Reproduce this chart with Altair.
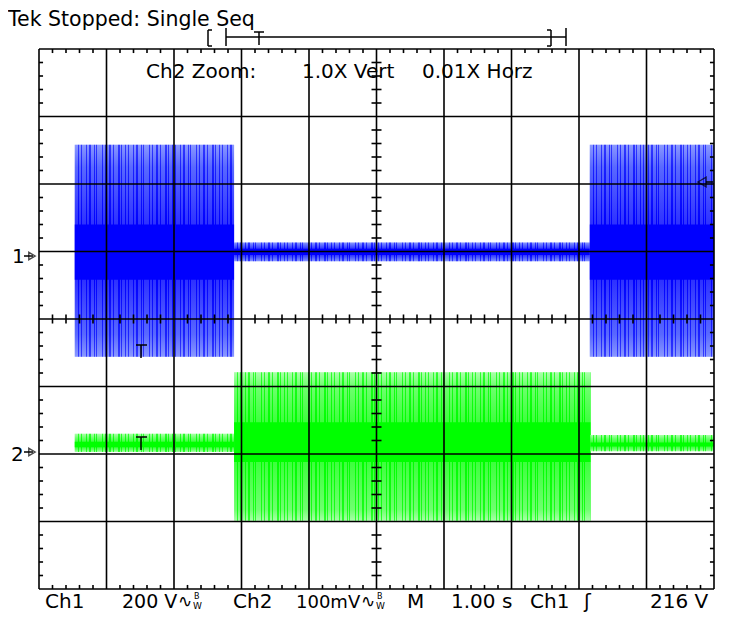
import altair as alt
import pandas as pd

# ---------------- data read from the screen ----------------
# time axis: seconds from the left edge of the screen (M 1.00 s/div, 10 div)
# Ch1: 200 V/div, ground marker at +1 div ; Ch2: 100 mV/div, ground at -2 div
ch1_start = [0.53, 2.89, 8.16]
ch1_end = [2.89, 8.16, 10.0]
ch1_peak_hi = [316, 27, 316]      # V
ch1_peak_lo = [-312, -29, -312]
ch1_body_hi = [250, 18, 250]
ch1_body_lo = [-246, -20, -246]
ch1_core_hi = [80, 8, 80]
ch1_core_lo = [-84, -10, -84]

ch2_start = [0.53, 2.89, 8.17]
ch2_end = [2.89, 8.17, 10.0]
ch2_peak_hi = [30, 121, 28]       # mV
ch2_peak_lo = [3, -99, 4]
ch2_body_hi = [24, 100, 23]
ch2_body_lo = [6, -82, 7]
ch2_core_hi = [18, 47, 17]
ch2_core_lo = [10, -12, 11]

CH1_VDIV, CH1_POS = 200.0, 1.0
CH2_VDIV, CH2_POS = 100.0, -2.0
PX_PER_DIV = 67.5

X = alt.Scale(domain=[0, 10], nice=False, zero=False)
Y = alt.Scale(domain=[-4, 4], nice=False, zero=False)

# irregular stripe texture (style only): alternating gap / line widths in px
PAT = [3, 1, 2, 1, 4, 1, 2, 2, 3, 1, 1, 1, 5, 1, 2, 1, 3, 2, 2, 1, 4, 2, 1, 1]


def vgrad(stops):
    return alt.LinearGradient(gradient="linear", x1=0, y1=0, x2=0, y2=1,
                              stops=[alt.GradientStop(offset=o, color=c) for o, c in stops])


def hstripes(width_px, line_color, gap_color):
    stops, pos, k = [], 0.0, 0
    while pos < width_px:
        w = PAT[k % len(PAT)]
        c = gap_color if k % 2 == 0 else line_color
        a = pos / width_px
        b = min(pos + w, width_px) / width_px
        stops += [(a, c), (b, c)]
        pos += w
        k += 1
    return alt.LinearGradient(gradient="linear", x1=0, y1=0, x2=1, y2=0,
                              stops=[alt.GradientStop(offset=o, color=c) for o, c in stops])


def rect(df, fill):
    return alt.Chart(df).mark_rect(color=fill).encode(
        x=alt.X("t0:Q", scale=X, axis=None), x2="t1:Q",
        y=alt.Y("hi:Q", scale=Y, axis=None), y2="lo:Q")


def trace(t0, t1, phi, plo, bhi, blo, chi, clo, vdiv, pos, light, mid, dark, line_c, gap_c):
    out = []
    for i in range(len(t0)):
        hi = pos + phi[i] / vdiv
        lo = pos + plo[i] / vdiv
        span = hi - lo
        o = lambda v: min(max((hi - (pos + v / vdiv)) / span, 0.0), 1.0)
        g = vgrad([(0, light), (o(bhi[i]), mid), (o(chi[i]), dark),
                   (o(clo[i]), dark), (o(blo[i]), mid), (1, light)])
        df = pd.DataFrame({"t0": [t0[i]], "t1": [t1[i]], "hi": [hi], "lo": [lo]})
        core = pd.DataFrame({"t0": [t0[i]], "t1": [t1[i]],
                             "hi": [pos + chi[i] / vdiv], "lo": [pos + clo[i] / vdiv]})
        w = (t1[i] - t0[i]) * PX_PER_DIV
        out.append(rect(df, g))
        out.append(rect(df, hstripes(w, line_c, gap_c)))
        out.append(rect(core, dark))
    return out


layers = []
layers += trace(ch1_start, ch1_end, ch1_peak_hi, ch1_peak_lo, ch1_body_hi, ch1_body_lo,
                ch1_core_hi, ch1_core_lo, CH1_VDIV, CH1_POS,
                "#8494ff", "#3f50ff", "#0000ff",
                "rgba(0,0,255,0.6)", "rgba(150,162,255,0.3)")
layers += trace(ch2_start, ch2_end, ch2_peak_hi, ch2_peak_lo, ch2_body_hi, ch2_body_lo,
                ch2_core_hi, ch2_core_lo, CH2_VDIV, CH2_POS,
                "#a6ffa6", "#4cff4c", "#00ff00",
                "rgba(0,255,0,0.7)", "rgba(175,255,175,0.35)")

# ---------------- graticule ----------------
rows = []
for i in range(11):
    rows.append({"x": i, "x2": i, "y": -4, "y2": 4})
for j in range(-4, 5):
    rows.append({"x": 0, "x2": 10, "y": j, "y2": j})
grid = pd.DataFrame(rows)
layers.append(alt.Chart(grid).mark_rule(color="black", strokeWidth=1.6).encode(
    x=alt.X("x:Q", scale=X, axis=None), x2="x2:Q",
    y=alt.Y("y:Q", scale=Y, axis=None), y2="y2:Q"))

tk = []
L = 0.06
for k in range(51):
    if k % 5 == 0:
        continue
    xv = k * 0.2
    tk.append({"x": xv, "x2": xv, "y": 4, "y2": 4 - L})
    tk.append({"x": xv, "x2": xv, "y": -4, "y2": -4 + L})
    tk.append({"x": xv, "x2": xv, "y": -0.067, "y2": 0.067})
for k in range(-20, 21):
    if k % 5 == 0:
        continue
    yv = k * 0.2
    tk.append({"x": 0, "x2": L, "y": yv, "y2": yv})
    tk.append({"x": 10, "x2": 10 - L, "y": yv, "y2": yv})
    tk.append({"x": 4.926, "x2": 5.074, "y": yv, "y2": yv})
ticks = pd.DataFrame(tk)
layers.append(alt.Chart(ticks).mark_rule(color="black", strokeWidth=1.6).encode(
    x=alt.X("x:Q", scale=X, axis=None), x2="x2:Q",
    y=alt.Y("y:Q", scale=Y, axis=None), y2="y2:Q"))

# ---------------- annotations (pixel positions) ----------------
ONE = alt.Data(values=[{}])
FONT = "DejaVu Sans"


def txt(s, x, y, size=20, align="left"):
    return alt.Chart(ONE).mark_text(text=s, font=FONT, fontSize=size, align=align,
                                    baseline="alphabetic", color="black").encode(
        x=alt.value(x), y=alt.value(y))


def seg(x1, y1, x2, y2, w=1.5):
    return alt.Chart(ONE).mark_rule(color="black", strokeWidth=w).encode(
        x=alt.value(x1), y=alt.value(y1), x2=alt.value(x2), y2=alt.value(y2))


def tri(x, y, shape, size=45):
    return alt.Chart(ONE).mark_point(shape=shape, filled=False, color="black",
                                     size=size, strokeWidth=1.4).encode(
        x=alt.value(x), y=alt.value(y))


ox, oy = 39, 49  # page position of the graticule's top-left corner
P = lambda x, y: (x - ox, y - oy)

ann = []
ann.append(txt("Tek Stopped: Single Seq", *P(8, 26), size=20.5))
ann.append(txt("Ch2 Zoom:", *P(146, 78)))
ann.append(txt("1.0X Vert", *P(302, 78)))
ann.append(txt("0.01X Horz", *P(422, 78)))

# record bar
ann.append(seg(*P(226, 37), *P(566, 37)))
ann.append(seg(*P(226, 28), *P(226, 46)))
ann.append(seg(*P(566, 28), *P(566, 46)))
ann.append(seg(*P(208, 30), *P(208, 46)))
ann.append(seg(*P(208, 30), *P(212, 30)))
ann.append(seg(*P(208, 46), *P(212, 46)))
ann.append(seg(*P(551, 30), *P(551, 46)))
ann.append(seg(*P(547, 30), *P(551, 30)))
ann.append(seg(*P(547, 46), *P(551, 46)))
ann.append(seg(*P(254, 32), *P(264, 32)))
ann.append(seg(*P(259, 32), *P(259, 45)))

# channel ground markers
ann.append(txt("1", *P(12, 263)))
ann.append(seg(*P(24, 256), *P(33, 256)))
ann.append(tri(*P(32, 256), "triangle-right", 55))
ann.append(txt("2", *P(11, 461)))
ann.append(seg(*P(24, 452), *P(33, 452)))
ann.append(tri(*P(32, 452), "triangle-right", 55))

# trigger level marker
ann.append(tri(*P(702, 182), "triangle-left", 90))
ann.append(seg(*P(706, 182), *P(713, 182)))

# trigger position markers
for yy in (345, 437):
    ann.append(seg(*P(136, yy), *P(147, yy)))
    ann.append(seg(*P(141, yy), *P(141, yy + 13)))

# bottom readout
B = 608
ann.append(txt("Ch1", *P(45, B)))
ann.append(txt("200 V", *P(122, B), size=19))
ann.append(txt("∿", *P(178, B - 1), size=17))
ann.append(txt("B", *P(194, B - 9), size=8))
ann.append(txt("W", *P(193, B + 1), size=9))
ann.append(txt("Ch2", *P(233, B)))
ann.append(txt("100mV", *P(296, B), size=18))
ann.append(txt("∿", *P(361, B - 1), size=17))
ann.append(txt("B", *P(377, B - 9), size=8))
ann.append(txt("W", *P(376, B + 1), size=9))
ann.append(txt("M", *P(407, B)))
ann.append(txt("1.00 s", *P(451, B)))
ann.append(txt("Ch1", *P(530, B)))
ann.append(txt("ʃ", *P(584, B)))
ann.append(txt("216 V", *P(650, B)))

chart = alt.layer(*layers, *ann).properties(
    width=675, height=540,
    padding={"left": 31, "top": 41, "right": 7, "bottom": 23},
    autosize="none",
    background="white",
).configure_view(stroke=None)

chart.save("out.html", embed_options={"renderer": "svg", "actions": False})
